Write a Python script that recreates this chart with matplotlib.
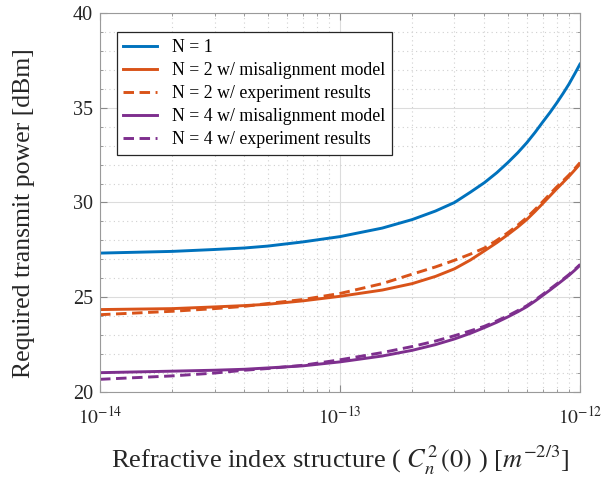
import matplotlib
matplotlib.use("Agg")
import matplotlib.pyplot as plt
from matplotlib.ticker import MultipleLocator, LogLocator, NullFormatter, FixedLocator
import numpy as np

plt.rcParams['font.family'] = ['Liberation Serif', 'DejaVu Serif']
plt.rcParams['mathtext.fontset'] = 'stix'

# Refractive index structure C_n^2(0) [m^-2/3]
cn2 = [1e-14, 2e-14, 3e-14, 4e-14, 5e-14, 7e-14, 1e-13, 1.5e-13, 2e-13,
       2.5e-13, 3e-13, 3.5e-13, 4e-13, 4.5e-13, 5e-13, 5.5e-13, 6e-13,
       6.5e-13, 7e-13, 7.5e-13, 8e-13, 8.5e-13, 9e-13, 9.5e-13, 1e-12]

n1 = [27.33, 27.42, 27.52, 27.60, 27.70, 27.92, 28.20, 28.65, 29.10,
      29.55, 30.00, 30.55, 31.05, 31.57, 32.10, 32.62, 33.15,
      33.70, 34.25, 34.75, 35.25, 35.75, 36.25, 36.78, 37.30]
n2_model = [24.35, 24.40, 24.49, 24.56, 24.63, 24.81, 25.05, 25.38, 25.72,
            26.10, 26.50, 26.97, 27.45, 27.88, 28.30, 28.70, 29.10,
            29.53, 29.95, 30.35, 30.72, 31.06, 31.38, 31.71, 32.03]
n2_exp = [24.08, 24.26, 24.40, 24.52, 24.67, 24.88, 25.20, 25.72, 26.22,
          26.60, 26.95, 27.28, 27.60, 28.00, 28.40, 28.80, 29.20,
          29.63, 30.05, 30.45, 30.82, 31.14, 31.45, 31.78, 32.10]
n4_model = [21.02, 21.10, 21.15, 21.20, 21.27, 21.38, 21.59, 21.90, 22.20,
            22.50, 22.80, 23.10, 23.40, 23.68, 23.96, 24.23, 24.50,
            24.80, 25.10, 25.38, 25.65, 25.91, 26.16, 26.42, 26.69]
n4_exp = [20.67, 20.85, 21.00, 21.15, 21.24, 21.41, 21.70, 22.08, 22.40,
          22.69, 22.97, 23.23, 23.47, 23.75, 24.02, 24.29, 24.55,
          24.85, 25.15, 25.43, 25.70, 25.95, 26.20, 26.46, 26.72]

labels = ["N = 1", "N = 2 w/ misalignment model", "N = 2 w/ experiment results",
          "N = 4 w/ misalignment model", "N = 4 w/ experiment results"]

xticks = [1e-14, 1e-13, 1e-12]
xticklabels = [r'$10^{-14}$', r'$10^{-13}$', r'$10^{-12}$']

blue = '#0072BD'
orange = '#D95319'
purple = '#7E2F8E'

fig = plt.figure(figsize=(6.01, 4.79), dpi=100)
ax = fig.add_axes([0.1664, 0.1816, 0.7986, 0.7913])

lw = 2.1
dash = (0, (3.6, 1.9))
ax.plot(cn2, n1, color=blue, lw=lw, label=labels[0])
ax.plot(cn2, n2_model, color=orange, lw=lw, label=labels[1])
ax.plot(cn2, n2_exp, color=orange, lw=lw, ls=dash, label=labels[2])
ax.plot(cn2, n4_model, color=purple, lw=lw, label=labels[3])
ax.plot(cn2, n4_exp, color=purple, lw=lw, ls=dash, label=labels[4])

ax.set_xscale('log')
ax.set_xlim(1e-14, 1e-12)
ax.set_ylim(20, 40)
ax.yaxis.set_major_locator(MultipleLocator(5))
ax.yaxis.set_minor_locator(MultipleLocator(1))
ax.set_xticks(xticks)
ax.set_xticklabels(xticklabels)
ax.xaxis.set_minor_locator(LogLocator(base=10, subs=range(2, 10), numticks=20))
ax.xaxis.set_minor_formatter(NullFormatter())

ax.grid(which='major', color='#dcdcdc', lw=0.8, ls='-')
ax.grid(which='minor', color='#d0d0d0', lw=0.8, ls=(0, (1, 3)))
ax.set_axisbelow(True)

for s in ax.spines.values():
    s.set_color('#9a9a9a')
    s.set_linewidth(0.8)
ax.tick_params(which='both', direction='in', top=True, right=True, colors='#262626')
ax.tick_params(which='major', length=5, color='#8a8a8a')
ax.tick_params(which='minor', length=2.5, color='#8a8a8a')
ax.tick_params(axis='y', labelsize=14.5, pad=5)
ax.tick_params(axis='x', labelsize=14, pad=10)

ax.set_ylabel('Required transmit power [dBm]', fontsize=18.5, color='#262626')
ax.yaxis.set_label_coords(-0.135, 0.472)
ax.set_xlabel(r'Refractive index structure ( $C_n^{2}\,(0)$ ) [$m^{-2/3}$]',
              fontsize=19, color='#262626', labelpad=11)

leg = ax.legend(loc='upper left', bbox_to_anchor=(0.016, 0.973), fontsize=12.8,
                frameon=True, fancybox=False, edgecolor='#262626', framealpha=1,
                handlelength=1.9, borderpad=0.38, labelspacing=0.34, handletextpad=0.85)
leg.get_frame().set_linewidth(0.9)

fig.savefig('out.png', dpi=100)
